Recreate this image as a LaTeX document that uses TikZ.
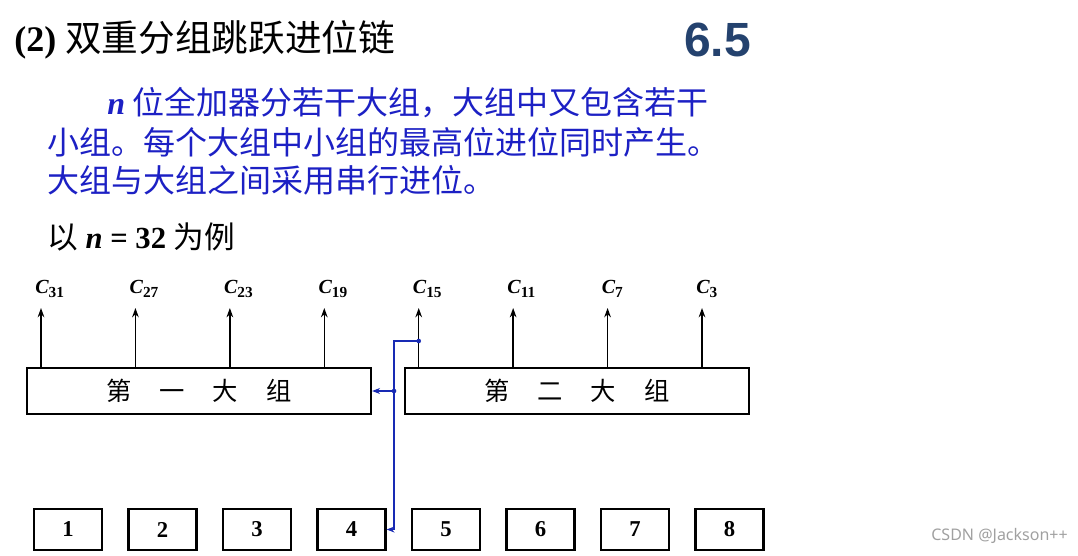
\documentclass[tikz,border=0pt]{standalone}
\usepackage{fontspec}
\usetikzlibrary{arrows.meta}
\setmainfont{Liberation Serif}
\newfontfamily\cjk{Noto Sans CJK SC}
\newfontfamily\hdsans{Liberation Sans}
\newfontfamily\wmfont{Noto Sans}
\definecolor{Tblue}{RGB}{28,32,196}
\definecolor{Lblue}{RGB}{24,42,180}
\definecolor{Secnum}{RGB}{36,66,110}
\definecolor{Wgrey}{RGB}{160,160,160}
\newcommand\cname[2]{{\bfseries\itshape #1}\raisebox{-0.45ex}{\fontsize{11.5}{12}\selectfont\bfseries #2}}
\newcommand\gsp{\hspace{1.1em}}

\begin{document}
\begin{tikzpicture}[x=0.75pt,y=-0.75pt,
  bigbox/.style={draw,line width=1.6pt,minimum width=258pt,minimum height=34.5pt,inner sep=0pt,font=\cjk\fontsize{19}{20}\selectfont},
  smallbox/.style={draw,line width=1.6pt,minimum width=51pt,minimum height=30.5pt,inner sep=0pt,font=\bfseries\fontsize{17}{18}\selectfont},
  carry/.style={line width=1.1pt,-{Stealth[length=7pt,width=5pt]}},
  bluewire/.style={draw=Lblue,line width=1.3pt,-{Stealth[length=6pt,width=4.5pt]}},
  jdot/.style={circle,fill=Lblue,inner sep=0pt,minimum size=3.5pt}]
\path[use as bounding box] (0,0) rectangle (1078,556);
% heading
\node[anchor=west,inner sep=0pt,font=\bfseries\fontsize{27}{29}\selectfont] (title) at (14,40) {(2) {\mdseries\cjk\fontsize{27.5}{29}\selectfont 双重分组跳跃进位链}};
\node[anchor=west,inner sep=0pt,text=Secnum,font=\hdsans\bfseries\fontsize{36}{38}\selectfont] (secno) at (684,40) {6.5};
% text
\node[anchor=west,inner sep=0pt,text=Tblue,font=\cjk\fontsize{24}{25}\selectfont] (para1) at (107,103) {{\rmfamily\bfseries\itshape n} 位全加器分若干大组，大组中又包含若干};
\node[anchor=west,inner sep=0pt,text=Tblue,font=\cjk\fontsize{24}{25}\selectfont] (para2) at (47,142) {小组。每个大组中小组的最高位进位同时产生。};
\node[anchor=west,inner sep=0pt,text=Tblue,font=\cjk\fontsize{24}{25}\selectfont] (para3) at (47,180) {大组与大组之间采用串行进位。};
\node[anchor=west,inner sep=0pt,font=\fontsize{23}{25}\selectfont] (ex) at (47,237) {{\cjk 以} \textbf{\textit{n} = 32} {\cjk 为例}};
% groups
\node[bigbox] (g1) at (199,391) {第\gsp 一\gsp 大\gsp 组};
\node[bigbox] (g2) at (577,391) {第\gsp 二\gsp 大\gsp 组};
\foreach \i in {1,...,8}
  \node[smallbox] (s\i) at ({68+94.5*(\i-1)},529.5) {\i};
% carries
\foreach \lab [count=\k from 0] in {31,27,23,19,15,11,7,3} {
  \coordinate (b\lab) at ({41+94.43*\k},368);
  \coordinate (t\lab) at ({41+94.43*\k},308);
  \draw[carry] (b\lab) -- (t\lab);
  \node[anchor=base west,inner sep=0pt,font=\fontsize{15}{16}\selectfont] (c\lab) at ({35+94.43*\k},293) {\cname{C}{\lab}};
}
% serial carry
\coordinate (j1) at (394,341);
\coordinate (p15) at (b15 |- j1);
\coordinate (j2) at (j1 |- g1.east);
\draw[bluewire] (p15) -- (j1) |- (s4.east);
\draw[bluewire] (j2) -- (g1.east);
\node[jdot] (d1) at (p15) {};
\node[jdot] (d2) at (j2) {};
\node[anchor=east,inner sep=0pt,text=Wgrey,font=\wmfont\fontsize{12}{13}\selectfont] (wm) at (1068,536) {CSDN @Jackson++};
\end{tikzpicture}
\end{document}
